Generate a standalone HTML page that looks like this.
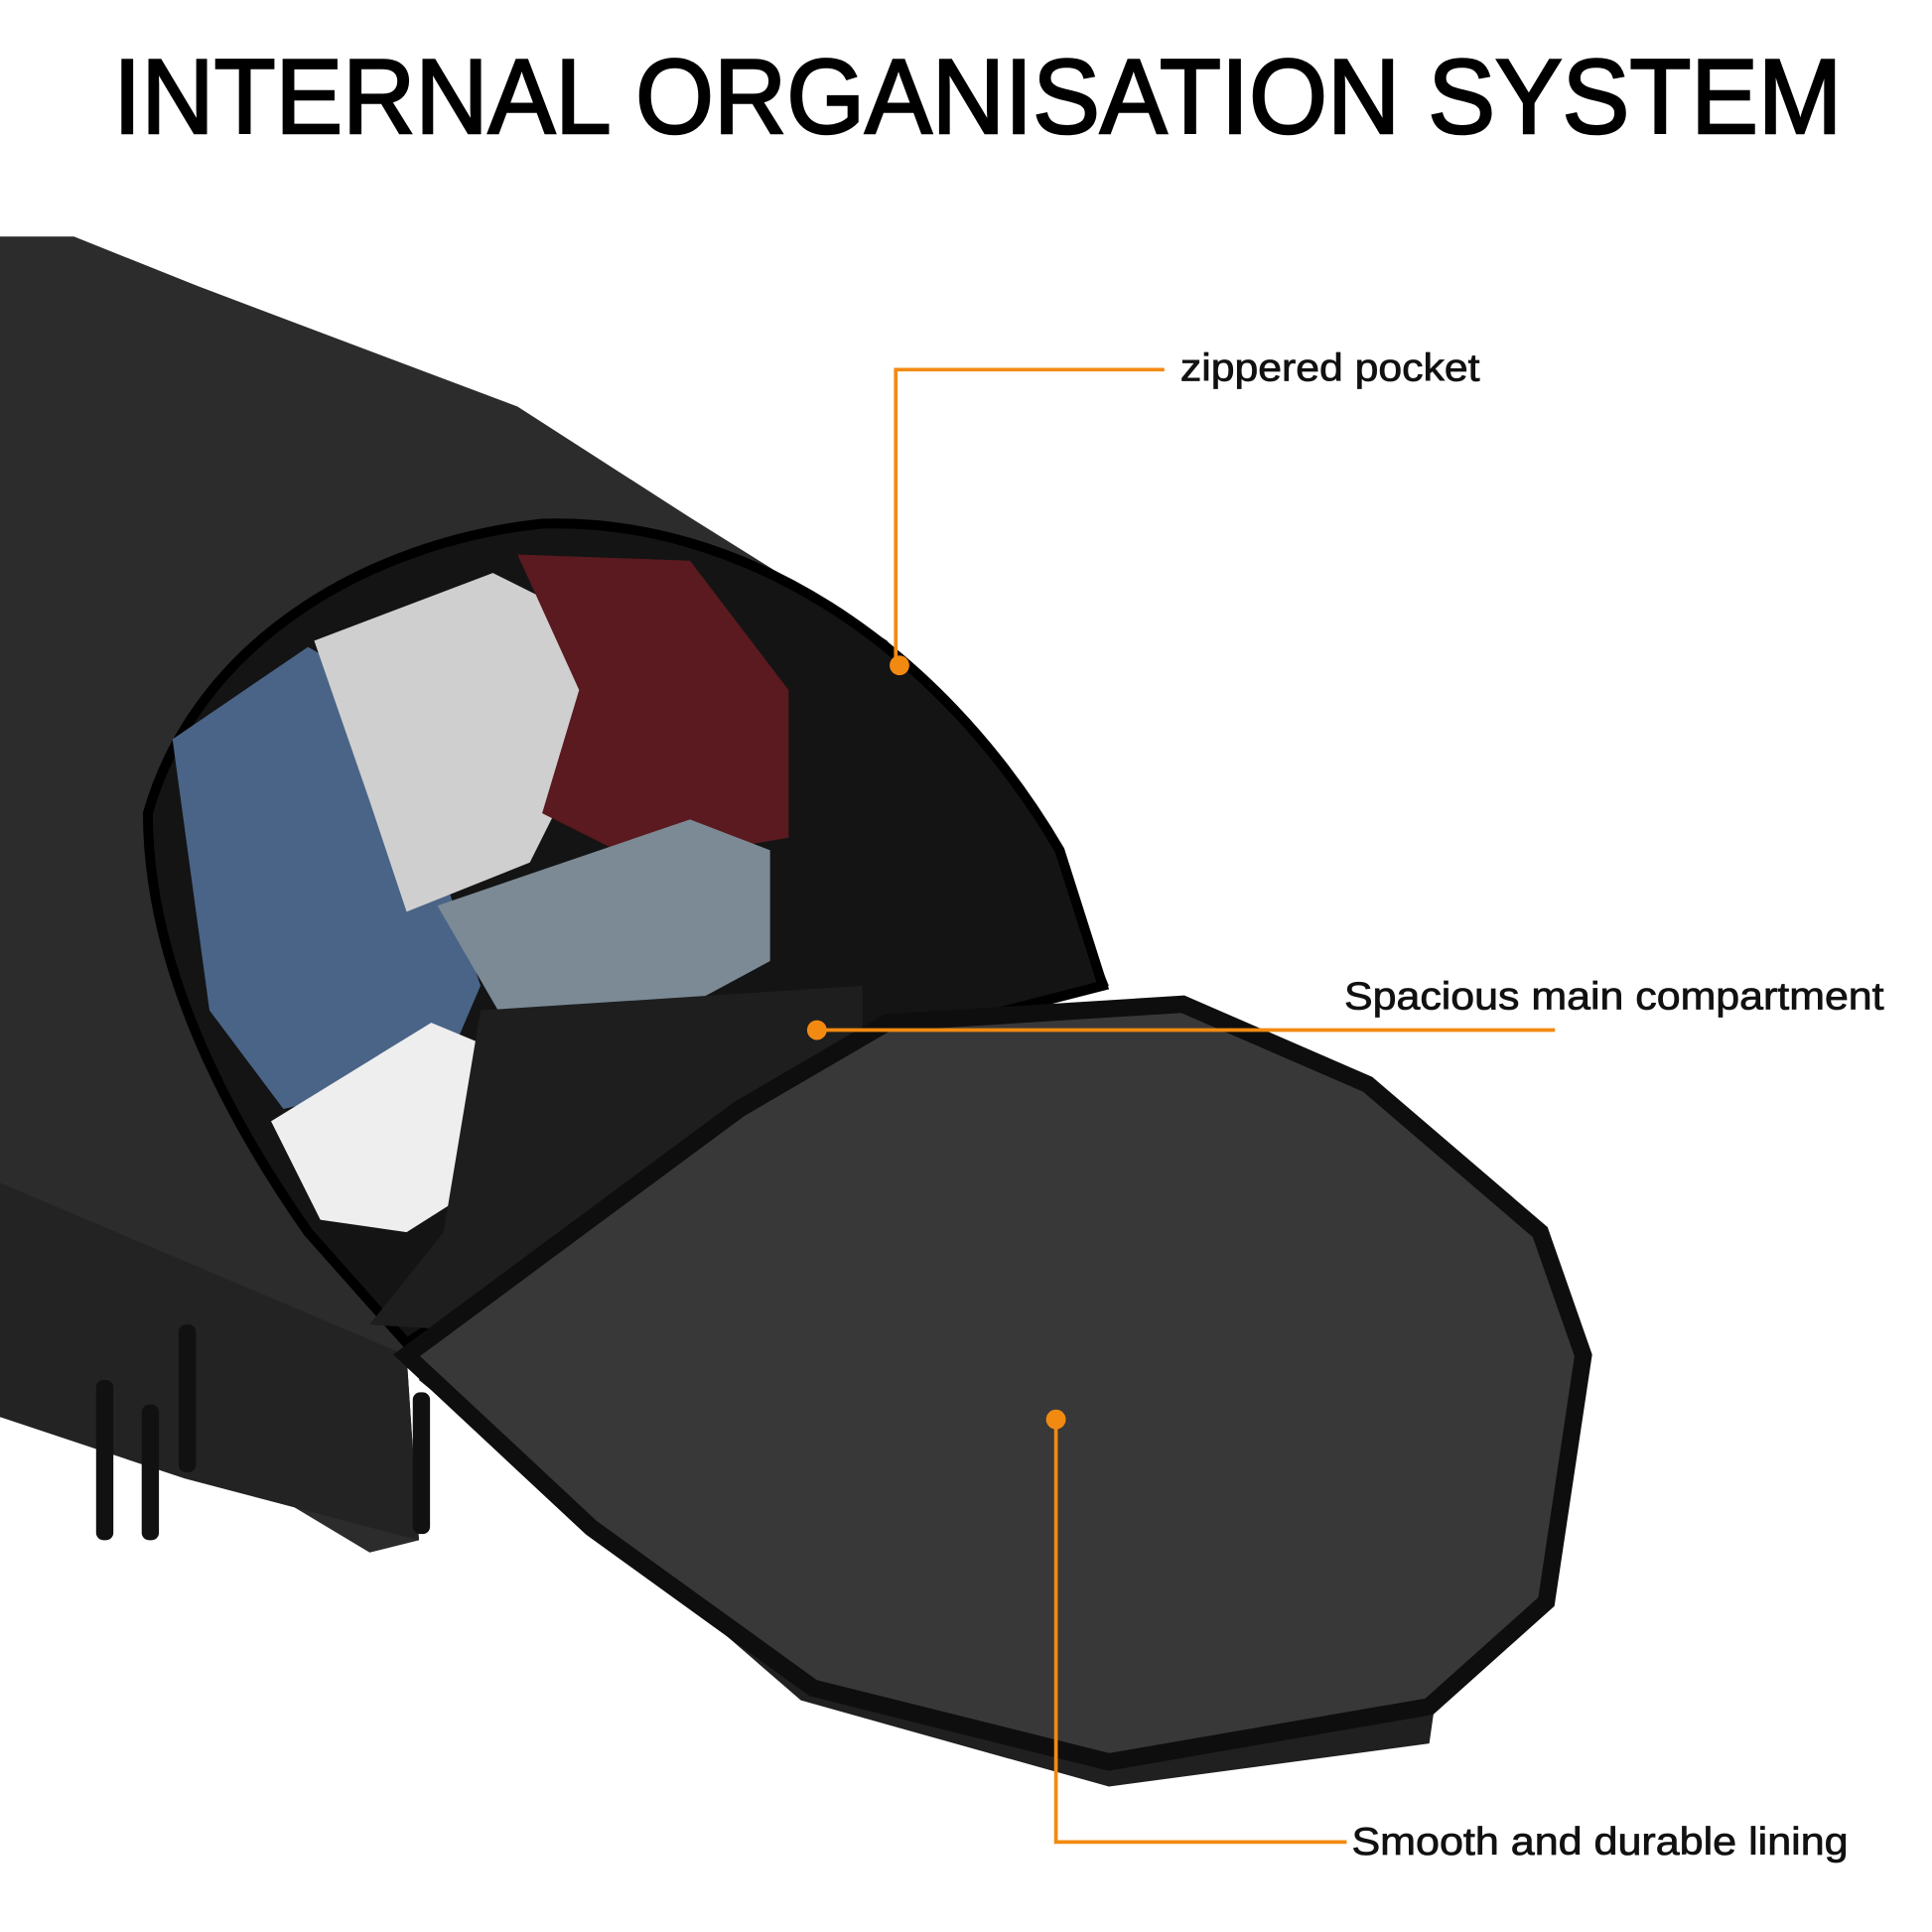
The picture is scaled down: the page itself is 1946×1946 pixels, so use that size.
<!DOCTYPE html>
<html><head><meta charset="utf-8"><style>
html,body{margin:0;padding:0;background:#fff}
svg{display:block}
</style></head><body>
<svg width="1946" height="1946" viewBox="0 0 1568 1568" xmlns="http://www.w3.org/2000/svg">
<rect width="1568" height="1568" fill="#fff"/>
<text x="92" y="108" font-family="Liberation Sans, sans-serif" font-size="86" fill="#000" stroke="#000" stroke-width="2" textLength="1403" lengthAdjust="spacingAndGlyphs">INTERNAL ORGANISATION SYSTEM</text>
<!-- body -->
<path d="M0,192 L60,192 L160,232 L420,330 L560,420 L720,520 L850,680 L900,800 L700,860 L330,1100 L340,1250 L300,1260 L200,1200 L0,1150 Z" fill="#2c2c2c"/>
<path d="M0,960 L330,1100 L340,1250 L150,1200 L0,1150 Z" fill="#232323"/>
<!-- opening -->
<path d="M120,660 C160,520 300,440 440,425 C600,420 760,520 860,690 L895,800 L700,850 L330,1090 L250,1000 C180,900 120,780 120,660 Z" fill="#141414" stroke="#000" stroke-width="8"/>
<!-- clothes -->
<path d="M140,600 L250,525 L310,560 L390,800 L360,870 L230,900 L170,820 Z" fill="#4a6487"/>
<path d="M255,520 L400,465 L470,500 L480,600 L430,700 L330,740 L300,650 Z" fill="#cfcfcf"/>
<path d="M420,450 L560,455 L640,560 L640,680 L520,700 L440,660 L470,560 Z" fill="#5a1a1f"/>
<path d="M355,735 L560,665 L625,690 L625,780 L510,842 L410,830 Z" fill="#7b8a95"/>
<path d="M220,910 L350,830 L470,880 L480,905 L330,1000 L260,990 Z" fill="#eeeeee"/>
<path d="M390,820 L700,800 L700,860 L380,1080 L300,1075 L360,1000 Z" fill="#1e1e1e"/>
<!-- flap lower band -->
<path d="M340,1120 L500,1250 L650,1380 L900,1450 L1160,1415 L1165,1380 L900,1420 L660,1360 L480,1230 L350,1100 Z" fill="#202020"/>
<!-- flap -->
<path d="M330,1100 L600,900 L720,830 L960,815 L1110,880 L1250,1000 L1285,1100 L1255,1300 L1160,1385 L900,1430 L660,1370 L480,1240 Z" fill="#383838" stroke="#0e0e0e" stroke-width="14"/>
<!-- zipper pulls -->
<rect x="78" y="1120" width="14" height="130" rx="6" fill="#111"/>
<rect x="115" y="1140" width="14" height="110" rx="6" fill="#111"/>
<rect x="145" y="1075" width="14" height="120" rx="6" fill="#111"/>
<rect x="335" y="1130" width="14" height="115" rx="6" fill="#111"/>
<!-- callouts -->
<g stroke="#f28a12" stroke-width="3" fill="none">
<polyline points="945,300 727,300 727,540"/>
<line x1="663" y1="836" x2="1262" y2="836"/>
<polyline points="857,1152 857,1495 1093,1495"/>
</g>
<g fill="#f28a12"><circle cx="730" cy="540" r="8"/><circle cx="663" cy="836" r="8"/><circle cx="857" cy="1152" r="8"/></g>
<g font-family="Liberation Sans, sans-serif" font-size="31" fill="#111" stroke="#111" stroke-width="0.6">
<text x="958" y="309" textLength="243" lengthAdjust="spacingAndGlyphs">zippered pocket</text>
<text x="1091" y="819" textLength="438" lengthAdjust="spacingAndGlyphs">Spacious main compartment</text>
<text x="1097" y="1505" textLength="403" lengthAdjust="spacingAndGlyphs">Smooth and durable lining</text>
</g>
</svg>
</body></html>
